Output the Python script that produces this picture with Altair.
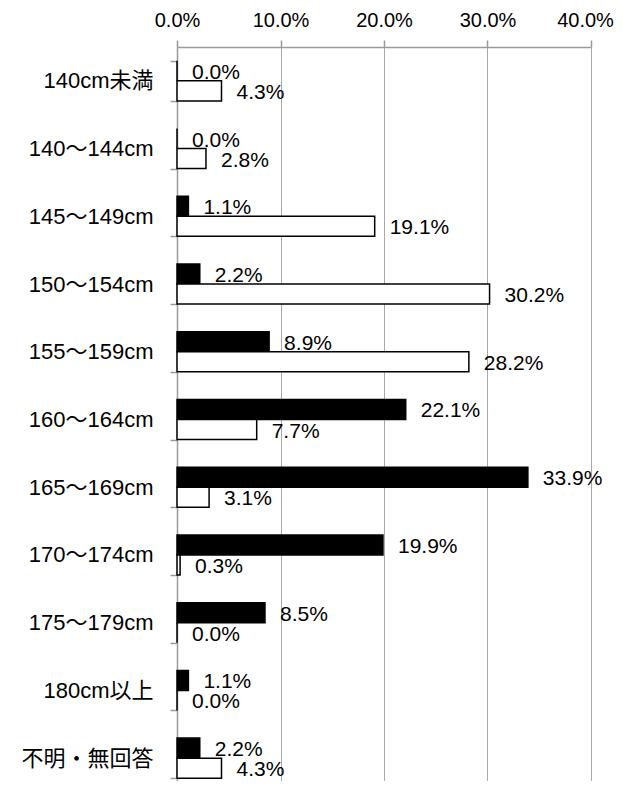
import altair as alt
import pandas as pd

categories = ["140cm未満", "140～144cm", "145～149cm", "150～154cm", "155～159cm",
              "160～164cm", "165～169cm", "170～174cm", "175～179cm", "180cm以上", "不明・無回答"]
series_names = ["男性", "女性"]
male = [0.0, 0.0, 1.1, 2.2, 8.9, 22.1, 33.9, 19.9, 8.5, 1.1, 2.2]
female = [4.3, 2.8, 19.1, 30.2, 28.2, 7.7, 3.1, 0.3, 0.0, 0.0, 4.3]

rows = []
for c, m, f in zip(categories, male, female):
    rows.append({"cat": c, "series": series_names[0], "v": m / 100})
    rows.append({"cat": c, "series": series_names[1], "v": f / 100})
df = pd.DataFrame(rows)

FONT = "Liberation Sans, Arial, Noto Sans CJK JP"

y_enc = alt.Y("cat:N", sort=categories, title=None,
              scale=alt.Scale(paddingInner=0.409, paddingOuter=0.2045, range=[0, 745]),
              axis=alt.Axis(orient="left", tickBand="extent", tickSize=7, tickColor="#9a9a9a",
                            domainColor="#9a9a9a", domainWidth=1.5, tickWidth=1.5,
                            labelFontSize=22, labelColor="black", labelFontWeight="normal",
                            labelFont=FONT, labelPadding=17, grid=False))
yoff = alt.YOffset("series:N", sort=series_names,
                   scale=alt.Scale(paddingInner=0, paddingOuter=0))
x_enc = alt.X("v:Q", title=None,
              scale=alt.Scale(domain=[0, 0.4], nice=False),
              axis=alt.Axis(orient="top", format=".1%", values=[0, 0.1, 0.2, 0.3, 0.4],
                            tickSize=7, tickColor="#9a9a9a", domainColor="#9a9a9a",
                            domainWidth=1.5, tickWidth=1.5, labelFlush=False,
                            labelOffset={"condition": {"test": "datum.value >= 0.39", "value": -6},
                                         "value": 0},
                            gridColor="#a8a8a8", grid=True, labelFontSize=20,
                            labelFontWeight="normal",
                            labelColor="black", labelFont=FONT, labelPadding=10))

bars = alt.Chart(df).mark_bar(stroke="black", strokeWidth=1.5).encode(
    x=x_enc, y=y_enc, yOffset=yoff,
    fill=alt.Fill("series:N", sort=series_names,
                  scale=alt.Scale(domain=series_names, range=["black", "white"]),
                  legend=None),
)
labels = alt.Chart(df).mark_text(align="left", baseline="middle", dx=15, dy=2,
                                 fontSize=21, font=FONT, color="black").encode(
    x=x_enc, y=y_enc, yOffset=yoff,
    text=alt.Text("v:Q", format=".1%"),
)

chart = (bars + labels).properties(
    width=414, height=734,
    autosize=alt.AutoSizeParams(type="none"),
    padding={"left": 169, "top": 39, "right": 24, "bottom": 0},
).configure_view(stroke=None)

chart.save("out.html", embed_options={"renderer": "svg", "actions": False})
